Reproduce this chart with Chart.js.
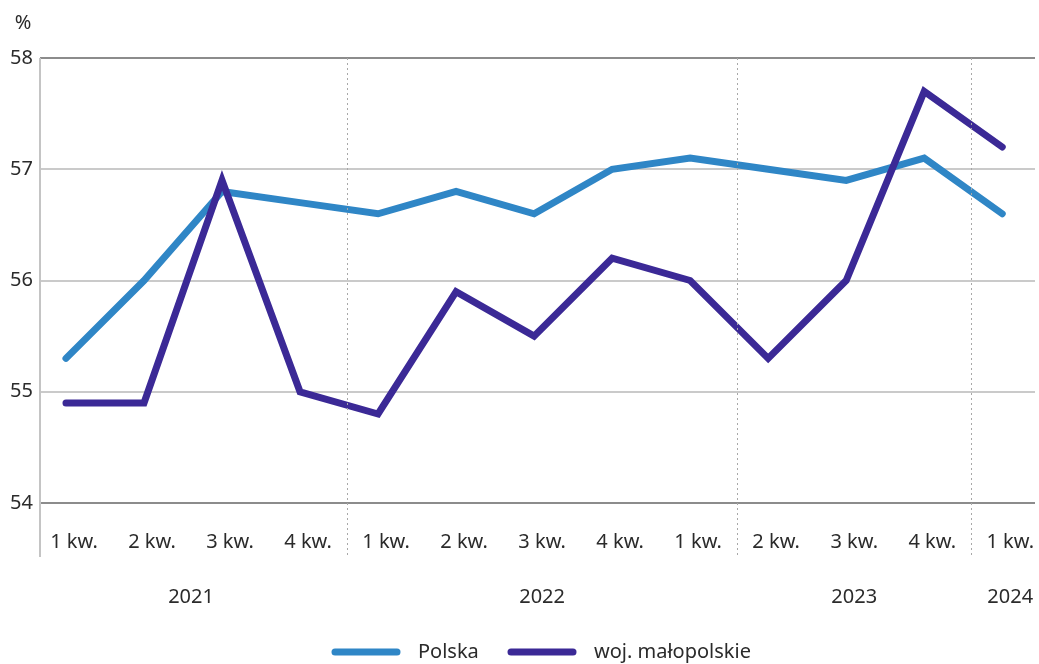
<!DOCTYPE html>
<html>
<head>
<meta charset="utf-8">
<script src="https://cdn.jsdelivr.net/npm/chart.js@4/dist/chart.umd.min.js"></script>
<style>
  html,body{margin:0;padding:0;background:#fff;}
  #wrap{width:1039px;height:664px;position:relative;}
</style>
</head>
<body>
<div id="wrap"><canvas id="c" width="1039" height="664"></canvas></div>
<script>
/* dane: stopa zatrudnienia (%), kwartalnie */
const kwartaly=['1 kw.','2 kw.','3 kw.','4 kw.','1 kw.','2 kw.','3 kw.','4 kw.','1 kw.','2 kw.','3 kw.','4 kw.','1 kw.'];
const polska=[55.3,56.0,56.8,56.7,56.6,56.8,56.6,57.0,57.1,57.0,56.9,57.1,56.6];
const malopolska=[54.9,54.9,56.9,55.0,54.8,55.9,55.5,56.2,56.0,55.3,56.0,57.7,57.2];
const lata=['2021','2022','2023','2024'];
const lataOd=[0,4,9,12];   // pierwszy kwartal w grupie
const lataDo=[3,8,11,12];  // ostatni kwartal w grupie
const yTicks=[54,55,56,57,58];

const FONT='"Noto Sans", "Open Sans", sans-serif';
const TXT='#2b2b2b';
const C_PL='#2f86c6', C_MP='#3b2996';
const LBL_OFF=8;

const extras={
  id:'extras',
  afterDraw(chart){
    const {ctx,chartArea:a,scales:{x,y}}=chart;
    ctx.save();
    // os Y
    ctx.strokeStyle='#c4c4c4'; ctx.lineWidth=2;
    ctx.beginPath(); ctx.moveTo(a.left,a.top); ctx.lineTo(a.left,557); ctx.stroke();
    // separatory lat
    ctx.strokeStyle='#a8a8a8'; ctx.lineWidth=1; ctx.setLineDash([2,3]);
    for(let k=1;k<lata.length;k++){
      const px=Math.round(x.getPixelForValue(lataOd[k]-0.5)+LBL_OFF)+0.5;
      ctx.beginPath(); ctx.moveTo(px,a.top); ctx.lineTo(px,557); ctx.stroke();
    }
    ctx.setLineDash([]);
    // podpisy lat
    ctx.fillStyle=TXT; ctx.font='20px '+FONT; ctx.textAlign='center'; ctx.textBaseline='middle';
    lata.forEach((l,k)=>{
      const px=x.getPixelForValue((lataOd[k]+lataDo[k])/2)+LBL_OFF;
      ctx.fillText(l,px,597);
    });
    // jednostka
    ctx.fillText('%',23,23);
    // legenda
    const leg=[{t:'Polska',c:C_PL,x0:332},{t:'woj. małopolskie',c:C_MP,x0:508}];
    ctx.lineCap='round'; ctx.lineWidth=7; ctx.textAlign='left';
    leg.forEach(l=>{
      ctx.strokeStyle=l.c;
      ctx.beginPath(); ctx.moveTo(l.x0+3,652); ctx.lineTo(l.x0+65,652); ctx.stroke();
      ctx.fillText(l.t,l.x0+86,652);
    });
    ctx.restore();
  }
};

const mk=(vals)=>vals.map((v,i)=>({x:i,y:v}));

new Chart(document.getElementById('c'),{
  type:'line',
  data:{datasets:[
    {label:'Polska',data:mk(polska),borderColor:C_PL,borderWidth:7,pointRadius:0,borderCapStyle:'round',borderJoinStyle:'miter',tension:0,order:1},
    {label:'woj. małopolskie',data:mk(malopolska),borderColor:C_MP,borderWidth:7,pointRadius:0,borderCapStyle:'round',borderJoinStyle:'miter',tension:0,order:0}
  ]},
  options:{
    responsive:false,animation:false,
    layout:{padding:{top:58,right:4,left:0,bottom:0}},
    plugins:{legend:{display:false},tooltip:{enabled:false}},
    scales:{
      x:{type:'linear',min:-0.333,max:12.42,
        afterBuildTicks:s=>{s.ticks=kwartaly.map((_,i)=>({value:i}));},
        afterFit:s=>{s.height=161;s.paddingLeft=0;s.paddingRight=0;},
        grid:{display:false,drawTicks:false},border:{display:false},
        ticks:{autoSkip:false,maxRotation:0,padding:27,labelOffset:LBL_OFF,color:TXT,font:{family:FONT,size:20},
          callback:v=>kwartaly[v]}},
      y:{min:54,max:58,
        afterBuildTicks:s=>{s.ticks=yTicks.map(v=>({value:v}));},
        afterFit:s=>{s.width=40;s.paddingTop=0;s.paddingBottom=0;},
        grid:{drawTicks:false,lineWidth:2,color:c=>(c.tick.value===54||c.tick.value===58)?'#8c8c8c':'#cacaca'},
        border:{display:false},
        ticks:{padding:7,color:TXT,font:{family:FONT,size:20}}}
    }
  },
  plugins:[extras]
});
</script>
</body>
</html>
